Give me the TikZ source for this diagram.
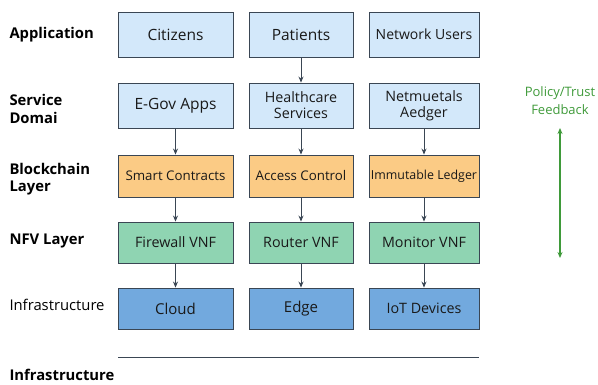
\documentclass[tikz,border=0pt]{standalone}
\usepackage{fontspec}
\setmainfont{Open Sans}
\usetikzlibrary{arrows.meta}
\definecolor{appblue}{HTML}{D3E8FA}
\definecolor{chainorange}{HTML}{FBCB85}
\definecolor{nfvgreen}{HTML}{8FD4B2}
\definecolor{infrablue}{HTML}{72A9DE}
\definecolor{edgegray}{HTML}{3A4654}
\definecolor{fbgreen}{HTML}{3F9A3A}
\tikzset{
  layerbox/.style={draw=edgegray, line width=0.9pt, inner sep=0pt, align=center, text=black!90},
  layerlabel/.style={anchor=west, align=left, font=\fontsize{14.8}{17.5}\selectfont\bfseries, text=black},
  flow/.style={-{Stealth[length=6pt,width=5pt]}, line width=0.8pt, draw=edgegray},
}
\begin{document}
\begin{tikzpicture}[x=1pt,y=-1pt]
  \useasboundingbox (0,0) rectangle (598,384);
  % layer names
  \node[layerlabel] (lapp) at (6,35) {Application};
  \node[layerlabel] (lsvc) at (6,109) {Service\\Domai};
  \node[layerlabel] (lbc) at (6,179) {Blockchain\\Layer};
  \node[layerlabel] (lnfv) at (6,241) {NFV Layer};
  \node[layerlabel, font=\fontsize{14.8}{17}\selectfont, text=black] (linf) at (6,305) {Infrastructure};
  \node[layerlabel] (lbot) at (6,375) {Infrastructure};
  % boxes
  \begin{scope}[every node/.style={layerbox, fill=appblue, minimum height=45pt, font=\fontsize{15.5}{17}\selectfont}]
    \node[minimum width=115pt] (cit) at (175.5,34.5) {Citizens};
    \node[minimum width=104pt] (pat) at (301,34.5) {Patients};
    \node[minimum width=110pt, font=\fontsize{14}{16}\selectfont] (net) at (424,34.5) {Network Users};
    \node[minimum width=115pt] (egov) at (175.5,105.5) {E-Gov Apps};
    \node[minimum width=104pt, font=\fontsize{14.3}{16}\selectfont] (hc) at (301,105.5) {Healthcare\\Services};
    \node[minimum width=110pt, font=\fontsize{14.3}{16}\selectfont] (nm) at (424,105.5) {Netmuetals\\Aedger};
  \end{scope}
  \begin{scope}[every node/.style={layerbox, fill=chainorange, minimum height=42pt, font=\fontsize{13.3}{15}\selectfont}]
    \node[minimum width=115pt] (sc) at (175.5,176) {Smart Contracts};
    \node[minimum width=104pt] (ac) at (301,176) {Access Control};
    \node[minimum width=110pt, font=\fontsize{12.4}{14}\selectfont] (il) at (424,176) {Immutable Ledger};
  \end{scope}
  \begin{scope}[every node/.style={layerbox, fill=nfvgreen, minimum height=41pt, font=\fontsize{14.3}{16}\selectfont}]
    \node[minimum width=115pt] (fw) at (175.5,242.5) {Firewall VNF};
    \node[minimum width=104pt] (rt) at (301,242.5) {Router VNF};
    \node[minimum width=110pt] (mon) at (424,242.5) {Monitor VNF};
  \end{scope}
  \begin{scope}[every node/.style={layerbox, fill=infrablue, minimum height=41pt, font=\fontsize{15}{16}\selectfont}]
    \node[minimum width=115pt] (cl) at (175.5,308.5) {Cloud};
    \node[minimum width=104pt] (ed) at (301,308.5) {Edge};
    \node[minimum width=110pt, font=\fontsize{14.3}{16}\selectfont] (iot) at (424,308.5) {IoT Devices};
  \end{scope}
  % feedback
  \node[font=\fontsize{13}{18}\selectfont, text=fbgreen, align=center] (fb) at (560,101) {Policy/Trust\\Feedback};
  \coordinate (fbtop) at (560,128);
  \coordinate (fbbot) at (560,258);
  \coordinate (basel) at (118,357);
  \coordinate (baser) at (479,357);
  \begin{scope}[flow]
    \draw (pat) to (hc);
    \draw (egov) to (sc);
    \draw (hc) to (ac);
    \draw (nm) to (il);
    \draw (sc) to (fw);
    \draw (ac) to (rt);
    \draw (il) to (mon);
    \draw (fw) to (cl);
    \draw (rt) to (ed);
    \draw (mon) to (iot);
  \end{scope}
  \draw[{Stealth[length=6pt,width=5pt]}-{Stealth[length=6pt,width=5pt]}, line width=1.2pt, draw=fbgreen] (fbtop) to (fbbot);
  \draw[line width=0.9pt, draw=edgegray] (basel) to (baser);
\end{tikzpicture}
\end{document}
